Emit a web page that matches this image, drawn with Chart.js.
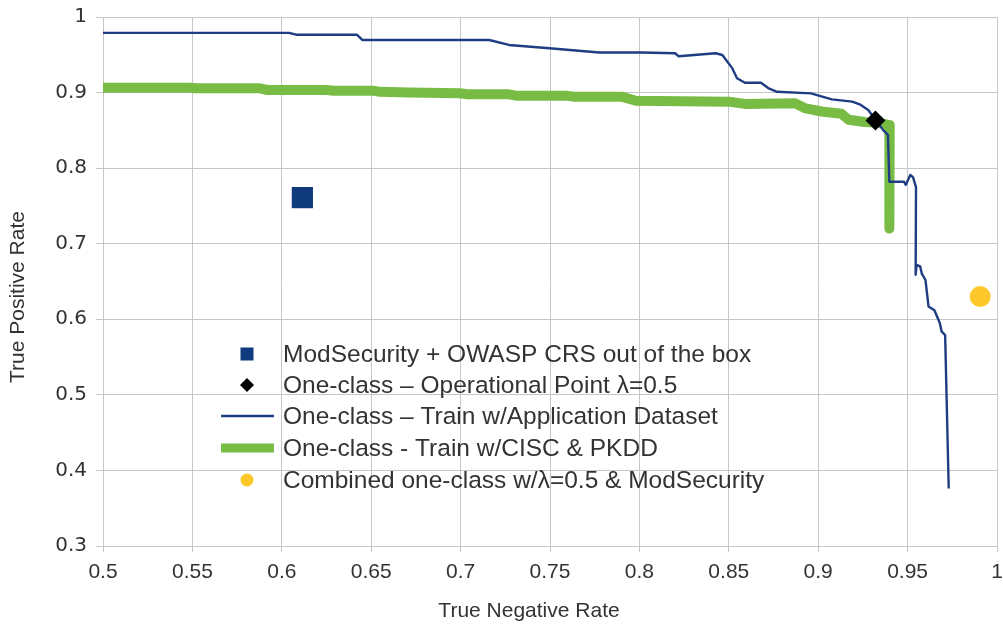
<!DOCTYPE html>
<html><head><meta charset="utf-8">
<script src="https://cdn.jsdelivr.net/npm/chart.js@4"></script>
<style>html,body{margin:0;padding:0;background:#fff}canvas{display:block}</style>
</head><body>
<canvas id="c" width="1003" height="625"></canvas>
<script>
const xTickValues = [0.5,0.55,0.6,0.65,0.7,0.75,0.8,0.85,0.9,0.95,1];
const xTickLabels = ["0.5","0.55","0.6","0.65","0.7","0.75","0.8","0.85","0.9","0.95","1"];
const yTickValues = [0.3,0.4,0.5,0.6,0.7,0.8,0.9,1];
const yTickLabels = ["0.3","0.4","0.5","0.6","0.7","0.8","0.9","1"];
const xTitle = "True Negative Rate";
const yTitle = "True Positive Rate";

const seriesLabels = [
  "ModSecurity + OWASP CRS out of the box",
  "One-class \u2013 Operational Point \u03bb=0.5",
  "One-class \u2013 Train w/Application Dataset",
  "One-class - Train w/CISC & PKDD",
  "Combined one-class w/\u03bb=0.5 & ModSecurity"
];

const modsecX = [0.6115];
const modsecY = [0.761];
const opX = [0.932];
const opY = [0.863];
const combX = [0.9906];
const combY = [0.630];

const appX = [0.500,0.604,0.608,0.642,0.645,0.716,0.727,0.7496,0.7775,0.8017,0.820,0.822,0.8426,0.8464,0.852,0.8546,0.859,0.868,0.872,0.877,0.896,0.9076,0.919,0.9236,0.928,0.932,0.9365,0.939,0.9398,0.948,0.949,0.9515,0.953,0.9547,0.9545,0.955,0.957,0.958,0.960,0.9617,0.965,0.968,0.969,0.971,0.973];
const appY = [0.979,0.979,0.9766,0.9766,0.9696,0.9696,0.963,0.9586,0.953,0.953,0.952,0.948,0.952,0.9497,0.932,0.919,0.913,0.913,0.906,0.901,0.899,0.891,0.888,0.884,0.877,0.864,0.850,0.844,0.782,0.782,0.778,0.791,0.788,0.775,0.659,0.672,0.670,0.660,0.652,0.617,0.612,0.595,0.584,0.579,0.376];

const ciscX = [0.500,0.5486,0.552,0.5877,0.592,0.625,0.629,0.651,0.655,0.671,0.6995,0.704,0.727,0.731,0.759,0.763,0.790,0.798,0.850,0.859,0.887,0.893,0.902,0.913,0.917,0.926,0.934,0.940,0.9398];
const ciscY = [0.9065,0.9065,0.9056,0.9056,0.9034,0.9034,0.9025,0.9025,0.901,0.900,0.899,0.8977,0.8977,0.8959,0.8959,0.8946,0.8946,0.8892,0.888,0.885,0.886,0.879,0.875,0.872,0.864,0.861,0.860,0.857,0.720];

const zip = (xs, ys) => xs.map((x, i) => ({x: x, y: ys[i]}));

const BLUE_SQ = '#0f3a7c', BLUE_LINE = '#1e3d82', GREEN = '#79bc45', YELLOW = '#fdc92a', TXT = '#333333', GRID = '#c6c6c6';
const FONT = '"Liberation Sans", Arial, sans-serif';

const datasets = [
  {label: seriesLabels[0], data: zip(modsecX, modsecY), pointStyle: 'rect', pointRadius: 15, backgroundColor: BLUE_SQ, borderColor: BLUE_SQ, pointBorderWidth: 0, showLine: false},
  {label: seriesLabels[1], data: zip(opX, opY), pointStyle: 'rectRot', pointRadius: 10, backgroundColor: '#000', borderColor: '#000', pointBorderWidth: 0, showLine: false},
  {label: seriesLabels[4], data: zip(combX, combY), pointStyle: 'circle', pointRadius: 10.5, backgroundColor: YELLOW, borderColor: YELLOW, pointBorderWidth: 0, showLine: false},
  {label: seriesLabels[2], data: zip(appX, appY), showLine: true, borderColor: BLUE_LINE, borderWidth: 2.4, pointRadius: 0, fill: false, tension: 0, borderJoinStyle: 'round'},
  {label: seriesLabels[3], data: zip(ciscX, ciscY), showLine: true, borderColor: GREEN, borderWidth: 10, pointRadius: 0, fill: false, tension: 0, borderJoinStyle: 'round'}
];

const legendOrder = [0, 1, 3, 4, 2];
const inLegend = {
  id: 'inLegend',
  afterDatasetsDraw(chart) {
    const ctx = chart.ctx;
    ctx.save();
    const mx = 247, x0 = 221, x1 = 274, tx = 283, ys = [354, 385, 416, 448, 480];
    legendOrder.forEach((di, k) => {
      const ds = chart.data.datasets[di];
      const y = ys[k];
      if (ds.showLine) {
        ctx.strokeStyle = ds.borderColor;
        ctx.lineWidth = ds.borderWidth > 5 ? 9 : 2.6;
        ctx.beginPath(); ctx.moveTo(x0, y); ctx.lineTo(x1, y); ctx.stroke();
      } else {
        ctx.fillStyle = ds.backgroundColor;
        ctx.beginPath();
        if (ds.pointStyle === 'rect') { ctx.rect(mx - 6.5, y - 6.5, 13, 13); }
        else if (ds.pointStyle === 'rectRot') { ctx.moveTo(mx - 7, y); ctx.lineTo(mx, y - 7); ctx.lineTo(mx + 7, y); ctx.lineTo(mx, y + 7); ctx.closePath(); }
        else { ctx.arc(mx, y, 6.5, 0, Math.PI * 2); }
        ctx.fill();
      }
      ctx.fillStyle = TXT;
      ctx.font = '24.5px ' + FONT;
      ctx.textBaseline = 'middle';
      ctx.textAlign = 'left';
      ctx.fillText(ds.label, tx, y + 1);
    });
    // axis titles
    ctx.font = '21px ' + FONT;
    ctx.fillStyle = TXT;
    ctx.textAlign = 'center';
    ctx.textBaseline = 'middle';
    ctx.fillText(xTitle, 529, 611);
    ctx.translate(18, 297);
    ctx.rotate(-Math.PI / 2);
    ctx.fillText(yTitle, 0, 0);
    ctx.restore();
  }
};

new Chart(document.getElementById('c'), {
  type: 'scatter',
  data: {datasets: datasets},
  plugins: [inLegend],
  options: {
    responsive: false,
    animation: false,
    devicePixelRatio: 1,
    layout: {autoPadding: false, padding: {top: 17, right: 6, left: 0, bottom: 0}},
    plugins: {legend: {display: false}, tooltip: {enabled: false}},
    scales: {
      x: {
        type: 'linear', min: 0.5, max: 1,
        afterBuildTicks: s => { s.ticks = xTickValues.map(v => ({value: v})); },
        afterFit: s => { s.height = 79; s.paddingRight = 0; s.paddingLeft = 0; },
        ticks: {callback: (v) => xTickLabels[xTickValues.findIndex(t => Math.abs(t - v) < 1e-9)], color: TXT, font: {family: FONT, size: 21}, padding: 8, maxRotation: 0, autoSkip: false},
        grid: {color: GRID, lineWidth: 1, tickLength: 6, drawTicks: true},
        border: {display: true, color: GRID},
        title: {display: false}
      },
      y: {
        type: 'linear', min: 0.3, max: 1,
        afterBuildTicks: s => { s.ticks = yTickValues.map(v => ({value: v})); },
        afterFit: s => { s.width = 103; s.paddingTop = 0; s.paddingBottom = 0; },
        ticks: {callback: (v) => yTickLabels[yTickValues.findIndex(t => Math.abs(t - v) < 1e-9)], color: TXT, font: {family: '"DejaVu Sans", sans-serif', size: 20}, padding: 9, autoSkip: false},
        grid: {color: GRID, lineWidth: 1, tickLength: 7, drawTicks: true},
        border: {display: true, color: GRID},
        title: {display: false}
      }
    }
  }
});
</script>
</body></html>
